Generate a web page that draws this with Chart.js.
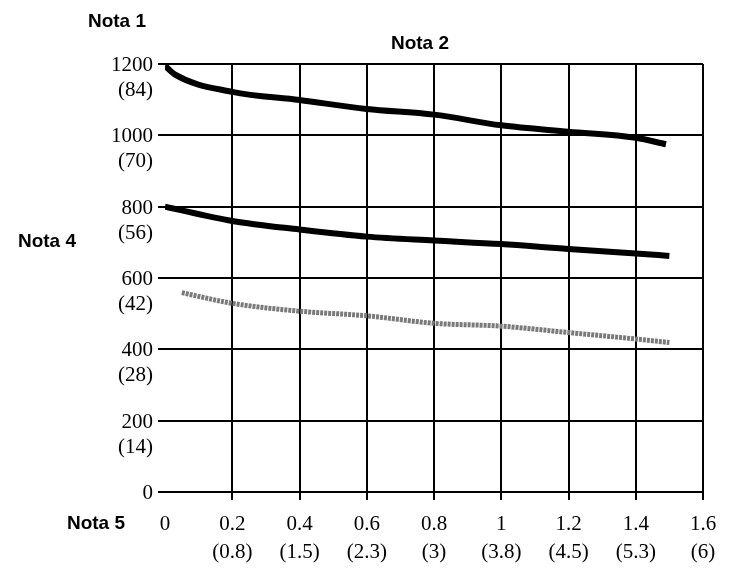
<!DOCTYPE html>
<html>
<head>
<meta charset="utf-8">
<script src="https://cdn.jsdelivr.net/npm/chart.js@4.4.1/dist/chart.umd.min.js"></script>
<style>
  html, body { margin: 0; padding: 0; background: #fff; }
  #wrap { width: 733px; height: 571px; }
</style>
</head>
<body>
<div id="wrap"><canvas id="lineChart"></canvas></div>
<script>
// data
var topX = [0, 0.03, 0.2, 0.4, 0.6, 0.8, 1.0, 1.2, 1.4, 1.49];
var topY = [1195, 1170, 1122, 1099, 1074, 1058, 1028, 1010, 993, 975];
var midX = [0, 0.2, 0.4, 0.6, 0.8, 1.0, 1.2, 1.4, 1.5];
var midY = [800, 760, 736, 716, 705, 695, 681, 669, 662];
var grayX = [0.05, 0.2, 0.4, 0.6, 0.8, 1.0, 1.2, 1.4, 1.5];
var grayY = [559, 529, 507, 494, 473, 465, 447, 429, 419];

var xTickLabels = [['0', ''], ['0.2', '(0.8)'], ['0.4', '(1.5)'], ['0.6', '(2.3)'], ['0.8', '(3)'],
  ['1', '(3.8)'], ['1.2', '(4.5)'], ['1.4', '(5.3)'], ['1.6', '(6)']];
var yTickLabels = [['0', ''], ['200', '(14)'], ['400', '(28)'], ['600', '(42)'],
  ['800', '(56)'], ['1000', '(70)'], ['1200', '(84)']];

var notes = [
  { text: 'Nota 1', x: 117, y: 22 },
  { text: 'Nota 2', x: 420, y: 44 },
  { text: 'Nota 4', x: 47, y: 242 },
  { text: 'Nota 5', x: 96, y: 524 }
];

function pts(xs, ys) {
  return xs.map(function (x, i) { return { x: x, y: ys[i] }; });
}

// free text labels around the plot
var notesPlugin = {
  id: 'notes',
  afterDraw: function (chart) {
    var ctx = chart.ctx;
    ctx.save();
    ctx.font = 'bold 19px "Liberation Sans", Arial, sans-serif';
    ctx.fillStyle = '#000';
    ctx.textAlign = 'center';
    ctx.textBaseline = 'middle';
    notes.forEach(function (n) { ctx.fillText(n.text, n.x, n.y); });
    ctx.restore();
  }
};

var serif = '"Liberation Serif", "Times New Roman", serif';

var ctxLine = document.getElementById('lineChart').getContext('2d');
new Chart(ctxLine, {
  type: 'line',
  data: {
    datasets: [{
      data: pts(topX, topY),
      borderColor: '#000',
      borderWidth: 6,
      pointRadius: 0,
      cubicInterpolationMode: 'monotone'
    }, {
      data: pts(midX, midY),
      borderColor: '#000',
      borderWidth: 6,
      pointRadius: 0,
      cubicInterpolationMode: 'monotone'
    }, {
      data: pts(grayX, grayY),
      borderColor: '#7a7a7a',
      borderWidth: 5,
      borderDash: [3, 1],
      pointRadius: 0,
      cubicInterpolationMode: 'monotone'
    }]
  },
  options: {
    responsive: true,
    maintainAspectRatio: false,
    animation: false,
    layout: { padding: { left: 0, right: 30, top: 64, bottom: 0 } },
    plugins: { legend: { display: false }, tooltip: { enabled: false } },
    scales: {
      x: {
        type: 'linear',
        min: 0,
        max: 1.6,
        border: { display: false },
        grid: {
          color: function (c) { return c.index === 0 ? 'rgba(0,0,0,0)' : '#000'; },
          lineWidth: 2,
          tickLength: 8
        },
        ticks: {
          stepSize: 0.2,
          maxRotation: 0,
          padding: 10,
          color: '#000',
          font: { family: serif, size: 21, lineHeight: 1.35 },
          callback: function (v, i) { return xTickLabels[i]; }
        },
        afterFit: function (s) { s.height = 79; }
      },
      y: {
        min: 0,
        max: 1200,
        border: { display: false },
        grid: { color: '#000', lineWidth: 2, tickLength: 7 },
        ticks: {
          stepSize: 200,
          padding: 5,
          labelOffset: 14,
          color: '#000',
          font: { family: serif, size: 21, lineHeight: 1.2 },
          callback: function (v, i) { return yTickLabels[i]; }
        },
        afterFit: function (s) { s.width = 165; }
      }
    }
  },
  plugins: [notesPlugin]
});
</script>
</body>
</html>
